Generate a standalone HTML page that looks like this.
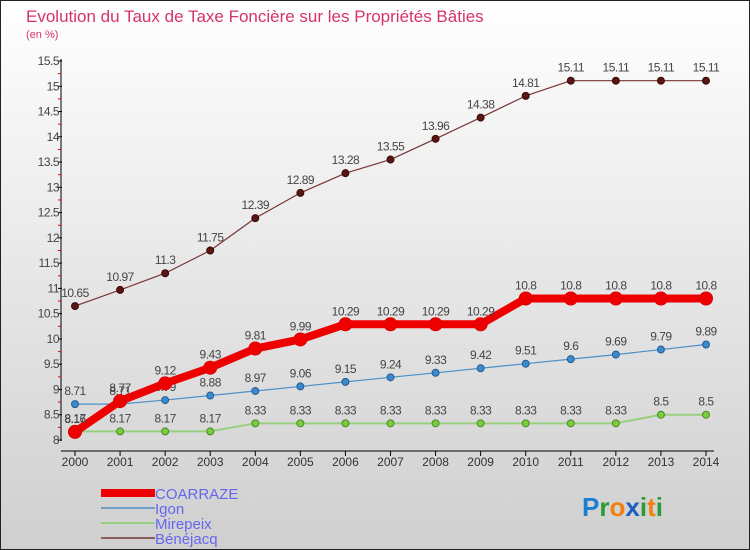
<!DOCTYPE html>
<html><head><meta charset="utf-8"><style>
body{margin:0;width:750px;height:550px;overflow:hidden;font-family:"Liberation Sans",sans-serif}
svg{display:block}
text{font-family:"Liberation Sans",sans-serif}
</style></head><body>
<svg id="c" width="750" height="550" xmlns="http://www.w3.org/2000/svg">
<defs><linearGradient id="bg" x1="0" y1="0" x2="0" y2="1"><stop offset="0" stop-color="#ffffff"/><stop offset="1" stop-color="#cfcfcf"/></linearGradient></defs>
<rect x="0.5" y="0.5" width="749" height="549" fill="url(#bg)" stroke="#222"/>
<text x="26" y="22" font-size="17" font-weight="normal" fill="#d6336c">Evolution du Taux de Taxe Foncière sur les Propriétés Bâties</text>
<text x="26" y="38" font-size="11" fill="#d6336c">(en %)</text>
<g id="axes"></g><g id="series"></g>
<g>
<rect x="101" y="489" width="54" height="8" fill="#ee0000"/>
<text x="155" y="499" font-size="15" fill="#6666ee">COARRAZE</text>
<rect x="101" y="507" width="54" height="2" fill="#6fa0c8"/>
<text x="155" y="514" font-size="15" fill="#6666ee">Igon</text>
<rect x="101" y="522" width="54" height="2" fill="#98d080"/>
<text x="155" y="529" font-size="15" fill="#6666ee">Mirepeix</text>
<rect x="101" y="537" width="54" height="2" fill="#8a6060"/>
<text x="155" y="544" font-size="15" fill="#6666ee">Bénéjacq</text>
</g>
<g font-size="26" font-weight="bold">
<text x="582" y="516"><tspan fill="#1a7fd0">P</tspan><tspan fill="#2a9a3a">r</tspan><tspan fill="#f08010">o</tspan><tspan fill="#1a5fc0">x</tspan><tspan fill="#2a9a3a">i</tspan><tspan fill="#f08010">t</tspan><tspan fill="#2a9a3a">i</tspan></text>
</g>
</svg>
<script>
const years=[2000,2001,2002,2003,2004,2005,2006,2007,2008,2009,2010,2011,2012,2013,2014];
const coarraze=[8.16,8.77,9.12,9.43,9.81,9.99,10.29,10.29,10.29,10.29,10.8,10.8,10.8,10.8,10.8];
const igon=[8.71,8.71,8.79,8.88,8.97,9.06,9.15,9.24,9.33,9.42,9.51,9.6,9.69,9.79,9.89];
const mirepeix=[8.17,8.17,8.17,8.17,8.33,8.33,8.33,8.33,8.33,8.33,8.33,8.33,8.33,8.5,8.5];
const benejacq=[10.65,10.97,11.3,11.75,12.39,12.89,13.28,13.55,13.96,14.38,14.81,15.11,15.11,15.11,15.11];
const yTicks=[8,8.5,9,9.5,10,10.5,11,11.5,12,12.5,13,13.5,14,14.5,15,15.5];
const NS="http://www.w3.org/2000/svg";
const x0=75,x1=706,yMin=8,yMax=15.5,yBot=440,yTop=61;
const xs=i=>x0+(x1-x0)*i/(years.length-1);
const ys=v=>yBot-(v-yMin)/(yMax-yMin)*(yBot-yTop);
function mk(p,t,a){const e=document.createElementNS(NS,t);for(const k in a)e.setAttribute(k,a[k]);p.appendChild(e);return e;}
const ax=document.getElementById('axes');
let l=mk(ax,'line',{x1:61,y1:59,x2:61,y2:441,stroke:'#000','stroke-width':1});


l=mk(ax,'line',{x1:61,y1:451,x2:714,y2:451,stroke:'#000','stroke-width':1});


yTicks.forEach((v,i)=>{
  const y=ys(v);
  mk(ax,'line',{x1:58,y1:y,x2:62,y2:y,stroke:'#000'});
  if(i<yTicks.length-1){mk(ax,'line',{x1:58,y1:ys(v+0.25),x2:61,y2:ys(v+0.25),stroke:'#e00'});}
  const t=mk(ax,'text',{x:59,y:y+4,'font-size':12,fill:'#444','text-anchor':'end','letter-spacing':'-0.5'});
  t.textContent=String(v);
  
  
});
years.forEach((yr,i)=>{
  const x=xs(i);
  mk(ax,'line',{x1:x,y1:451,x2:x,y2:456,stroke:'#000'});
  const t=mk(ax,'text',{x:x,y:466,'font-size':12,fill:'#333','text-anchor':'middle'});
  t.textContent=yr;
  
  
});
const sg=document.getElementById('series');
function series(data,name,color,w,r,dot,dotStroke){
  const g=mk(sg,'g',{});
  
  
  const pl=mk(g,'polyline',{points:data.map((v,i)=>xs(i)+','+ys(v)).join(' '),fill:'none',stroke:color,'stroke-width':w,'stroke-linejoin':'round'});
  
  
  data.forEach((v,i)=>{
    const c=mk(g,'circle',{cx:xs(i),cy:ys(v),r:r,fill:dot,stroke:dotStroke,'stroke-width':1});
    
    
    const t=mk(g,'text',{x:xs(i),y:ys(v)-9,'font-size':12,fill:'#444','text-anchor':'middle','letter-spacing':'-0.5'});
    t.textContent=String(v);
    
    
  });
}
series(benejacq,'benejacq','#7a3535',1.2,3.5,'#5a1515','#3a0a0a');
series(mirepeix,'mirepeix','#98d080',2,3.5,'#7acc3a','#4a8a2a');
series(igon,'igon','#4a90c8',1.2,3.5,'#3a8ad0','#2a5a90');
series(coarraze,'coarraze','#ee0000',8,6.5,'#ee0000','#dd0000');
</script>
</body></html>
